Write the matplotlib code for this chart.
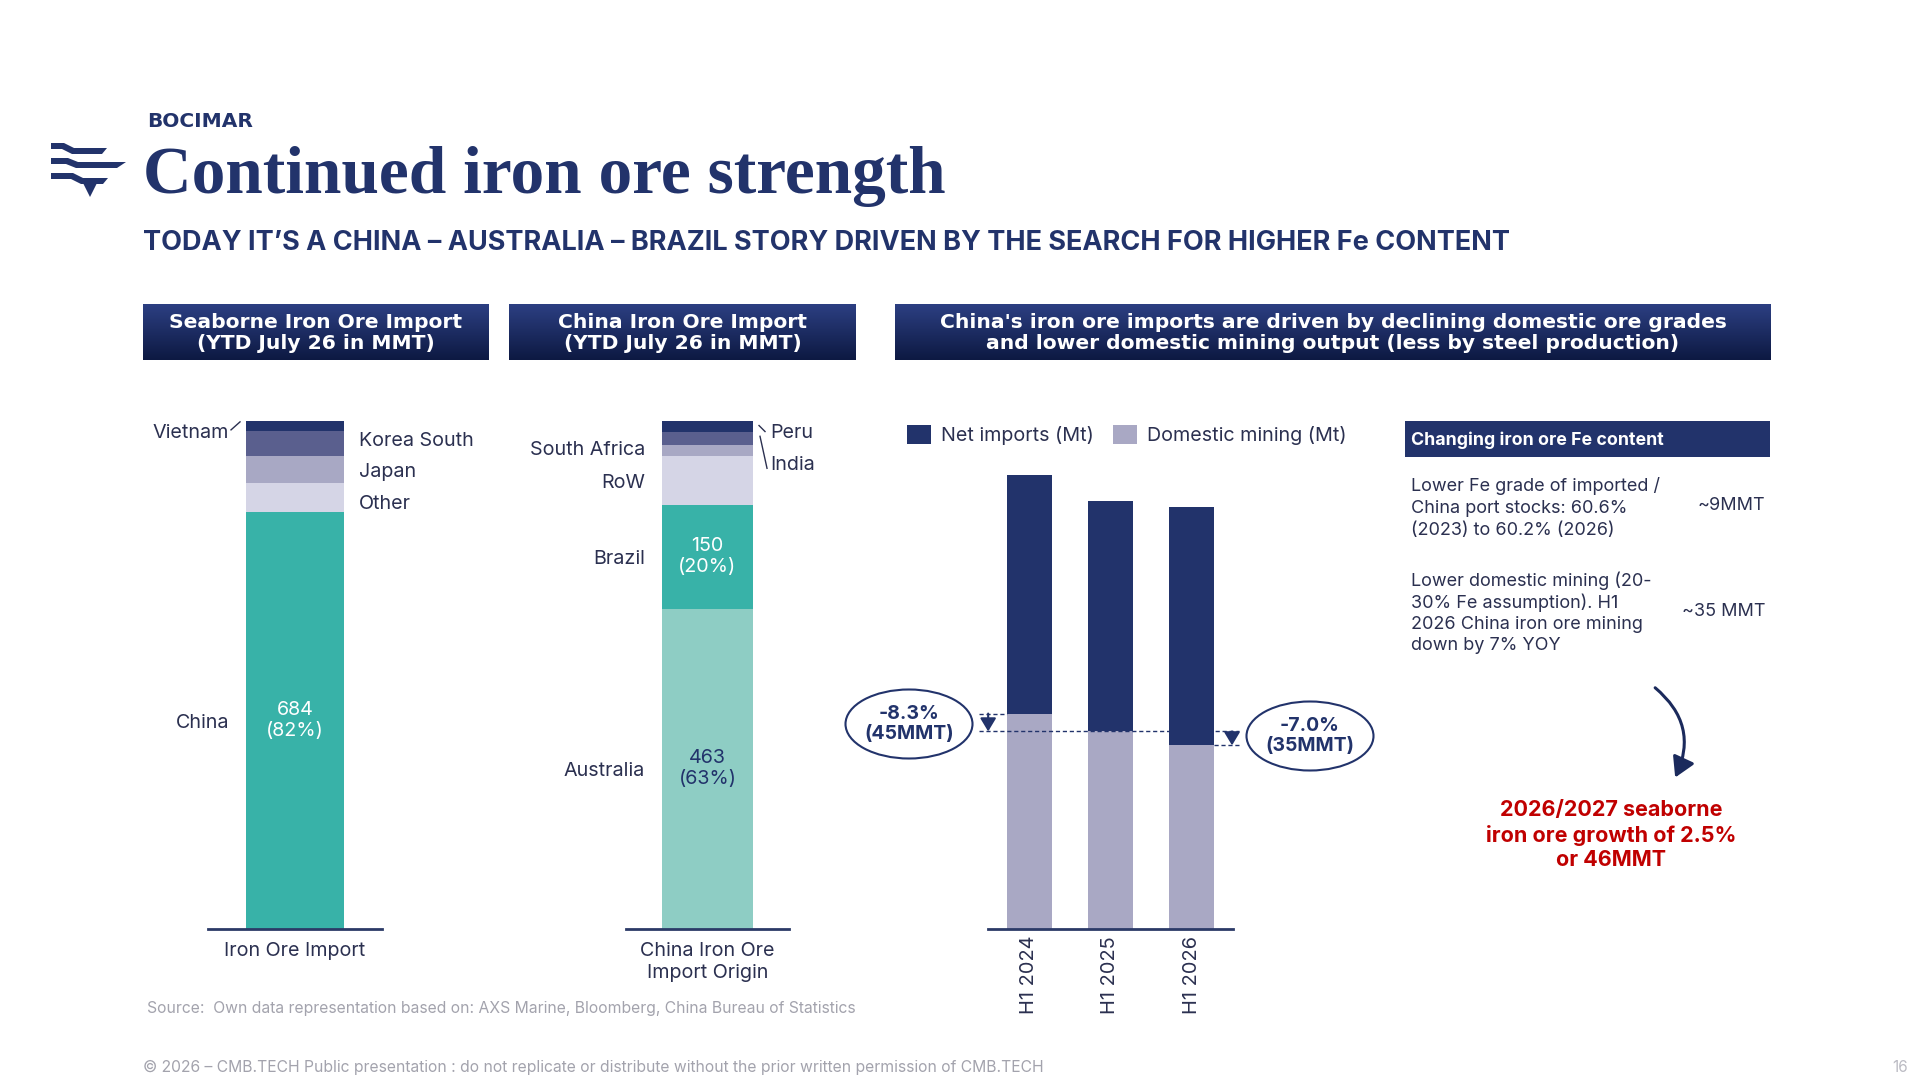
import matplotlib
matplotlib.use('Agg')
import matplotlib.pyplot as plt
import numpy as np
from matplotlib.patches import Ellipse, Polygon, Rectangle, FancyArrowPatch
from matplotlib.colors import LinearSegmentedColormap

# Seaborne iron ore import, YTD July 26 (MMT), bottom to top
seaborne_countries = ['China', 'Other', 'Japan', 'Korea South', 'Vietnam']
seaborne_mmt = [684, 48, 44, 42, 16]

# China iron ore import origin, YTD July 26 (MMT), bottom to top
origin_countries = ['Australia', 'Brazil', 'RoW', 'South Africa', 'India', 'Peru']
origin_mmt = [463, 150, 71, 16, 18, 16]

# China supply, half-year (Mt)
periods = ['H1 2024', 'H1 2025', 'H1 2026']
domestic_mining = [542, 497, 462]
net_imports = [600, 580, 600]

W, H = 1920, 1080
NAVY = '#22336B'
TXT = '#2B3050'
GREY = '#A3A3AD'
LBL = 14.2

plt.rcParams['font.family'] = ['Inter', 'DejaVu Sans']

fig = plt.figure(figsize=(19.2, 10.8), dpi=100)
fig.patch.set_facecolor('white')

# full-page overlay in pixel coordinates (y downwards)
bg = fig.add_axes([0, 0, 1, 1])
bg.axis('off')


def box_axes(left, right, top, bottom):
    a = fig.add_axes([left / W, 1 - bottom / H, (right - left) / W, (bottom - top) / H])
    a.set_facecolor('none')
    for s in ['top', 'right', 'left']:
        a.spines[s].set_visible(False)
    a.spines['bottom'].set_color('#2B3A67')
    a.spines['bottom'].set_linewidth(2)
    a.set_yticks([])
    return a


def to_px(ax, x, y):
    # data point of a chart -> page pixel (y downwards)
    dx, dy = ax.transData.transform((x, y))
    return dx, H - dy


def leader(p0, p1):
    bg.plot([p0[0], p1[0]], [p0[1], p1[1]], color=TXT, lw=1)


# ---- logo ----
def stripe(x0, y0, xj, xend, thick, drop, tip):
    pts = [(x0, y0), (xj, y0), (xj + 10, y0 + drop), (xend, y0 + drop),
           (xend - tip, y0 + drop + thick), (xj + 8, y0 + drop + thick),
           (xj - 2, y0 + thick), (x0, y0 + thick)]
    bg.add_patch(Polygon(pts, closed=True, color=NAVY, lw=0))


stripe(51, 143, 64, 107, 6, 5, 5)
stripe(51, 158, 68, 126, 6, 4, 9)
stripe(51, 173, 73, 108, 6, 5, 5)
bg.add_patch(Polygon([(83, 183), (97, 183), (90, 197)], closed=True, color=NAVY, lw=0))

# ---- titles ----
bg.text(147, 127, 'BOCIMAR', fontsize=14.5, fontweight='bold', family='DejaVu Sans',
        color=NAVY, va='baseline')
title = bg.text(143, 193, 'Continued iron ore strength', fontsize=50, fontweight='bold',
                family='Liberation Serif', color=NAVY, va='baseline')
sub = bg.text(143, 250, 'TODAY IT\u2019S A CHINA \u2013 AUSTRALIA \u2013 BRAZIL STORY DRIVEN BY THE SEARCH FOR HIGHER Fe CONTENT',
              fontsize=16, fontweight='bold', color=NAVY, va='baseline')
bg.set_xlim(0, W)
bg.set_ylim(H, 0)
fig.canvas.draw()
for t, target in [(title, 804), (sub, 1372)]:
    w = t.get_window_extent().width
    t.set_fontsize(t.get_fontsize() * target / w)

# ---- gradient header boxes ----
grad = LinearSegmentedColormap.from_list('hdr', ['#2C3F82', '#0D1942'])
g = np.linspace(0, 1, 64).reshape(-1, 1)
headers = [
    ((143, 489), 'Seaborne Iron Ore Import\n(YTD July 26 in MMT)'),
    ((509, 856), 'China Iron Ore Import\n(YTD July 26 in MMT)'),
    ((895, 1771), "China's iron ore imports are driven by declining domestic ore grades\n"
                  "and lower domestic mining output (less by steel production)"),
]
for (x0, x1), label in headers:
    bg.imshow(g, cmap=grad, extent=(x0, x1, 360, 304), origin='upper', aspect='auto')
    bg.text((x0 + x1) / 2, 333, label, ha='center', va='center', color='white',
            fontsize=14.6, fontweight='bold', family='DejaVu Sans', linespacing=1.15)

bg.set_xlim(0, W)
bg.set_ylim(H, 0)

label_dy = {'Korea South': 2.5, 'Other': -6.5, 'South Africa': 0}

# ---- chart 1: seaborne import ----
seaborne_colors = ['#38B2A8', '#D5D5E6', '#A8A8C4', '#5A5F8E', NAVY]
ax1 = box_axes(208, 382, 421, 929)
bot1 = np.concatenate([[0], np.cumsum(seaborne_mmt)[:-1]])
tot1 = sum(seaborne_mmt)
w1 = 1.126
ax1.bar([0] * len(seaborne_mmt), seaborne_mmt, bottom=bot1, width=w1,
        color=seaborne_colors, lw=0)
ax1.set_xlim(-1, 1)
ax1.set_ylim(0, tot1)
ax1.set_xticks([0])
ax1.set_xticklabels(['Iron Ore Import'], fontsize=LBL, color=TXT)
ax1.tick_params(axis='x', length=0, pad=9)

for name, v, b in zip(seaborne_countries, seaborne_mmt, bot1):
    yc = b + v / 2
    dy = label_dy.get(name, -2.5)
    if name == 'Vietnam':
        bx, by = to_px(ax1, -w1 / 2, yc)
        bg.text(bx - 17, by + 7, name, ha='right', va='center', fontsize=LBL, color=TXT)
        leader((bx - 15, by + 4), (bx - 6, by - 4))
    elif name == 'China':
        ax1.annotate(name, xy=(-w1 / 2, yc), xytext=(-17, dy), textcoords='offset pixels',
                     ha='right', va='center', fontsize=LBL, color=TXT)
        ax1.text(0, yc, f'{v}\n({v / tot1:.0%})', ha='center', va='center',
                 fontsize=LBL, color='white', linespacing=1.2)
    else:
        ax1.annotate(name, xy=(w1 / 2, yc), xytext=(15, dy), textcoords='offset pixels',
                     ha='left', va='center', fontsize=LBL, color=TXT)

# ---- chart 2: China import origin ----
origin_colors = ['#8ECDC4', '#38B2A8', '#D5D5E6', '#A8A8C4', '#5A5F8E', NAVY]
ax2 = box_axes(626, 789, 421, 929)
bot2 = np.concatenate([[0], np.cumsum(origin_mmt)[:-1]])
tot2 = sum(origin_mmt)
w2 = 1.117
ax2.bar([0] * len(origin_mmt), origin_mmt, bottom=bot2, width=w2,
        color=origin_colors, lw=0)
ax2.set_xlim(-1, 1)
ax2.set_ylim(0, tot2)
ax2.set_xticks([0])
ax2.set_xticklabels(['China Iron Ore\nImport Origin'], fontsize=LBL, color=TXT, linespacing=1.3)
ax2.tick_params(axis='x', length=0, pad=9)

for name, v, b in zip(origin_countries, origin_mmt, bot2):
    yc = b + v / 2
    dy = label_dy.get(name, -2.5)
    if name == 'Peru':
        bx, by = to_px(ax2, w2 / 2, yc)
        bg.text(bx + 17, by + 6, name, ha='left', va='center', fontsize=LBL, color=TXT)
        leader((bx + 6, by - 1), (bx + 12, by + 5))
    elif name == 'India':
        bx, by = to_px(ax2, w2 / 2, yc)
        bg.text(bx + 17, by + 27, name, ha='left', va='center', fontsize=LBL, color=TXT)
        leader((bx + 7, by - 2), (bx + 14, by + 30))
    else:
        ax2.annotate(name, xy=(-w2 / 2, yc), xytext=(-17, dy), textcoords='offset pixels',
                     ha='right', va='center', fontsize=LBL, color=TXT)
    if name in ('Australia', 'Brazil'):
        ax2.text(0, yc, f'{v}\n({v / tot2:.0%})', ha='center', va='center', fontsize=LBL,
                 color='white' if name == 'Brazil' else NAVY, linespacing=1.2)

# ---- chart 3: China supply ----
ax3 = box_axes(988, 1233, 421, 929)
x3 = np.arange(len(periods))
b_dom = ax3.bar(x3, domestic_mining, width=0.56, color='#A9A8C4', lw=0, label='Domestic mining (Mt)')
b_net = ax3.bar(x3, net_imports, bottom=domestic_mining, width=0.56, color=NAVY, lw=0,
                label='Net imports (Mt)')
ax3.set_xlim(-0.512, 2.512)
ax3.set_ylim(0, 1278)
ax3.set_xticks(x3)
ax3.set_xticklabels(periods, rotation=90, fontsize=14.4, color=TXT)
ax3.tick_params(axis='x', length=0, pad=5)
ax3.legend(handles=[b_net, b_dom], loc='center left', bbox_to_anchor=(907 / W, 1 - 435 / H),
           bbox_transform=fig.transFigure, ncol=2, frameon=False, fontsize=14.2, labelcolor=TXT,
           handlelength=1.2, handleheight=1.1, handletextpad=0.5, columnspacing=1.0,
           borderaxespad=0, borderpad=0)

dash = dict(color=NAVY, lw=1, ls=(0, (3, 2)), clip_on=False)
ax3.plot([-0.62, 2.59], [domestic_mining[1]] * 2, **dash)
ax3.plot([-0.62, -0.28], [domestic_mining[0]] * 2, **dash)
ax3.plot([2.28, 2.59], [domestic_mining[2]] * 2, **dash)
arr = dict(arrowstyle='-|>,head_length=0.5,head_width=0.3', color=NAVY, lw=1.5,
           mutation_scale=16, shrinkA=0, shrinkB=0)
ax3.annotate('', xy=(-0.51, domestic_mining[1]), xytext=(-0.51, domestic_mining[0]),
             arrowprops=arr, annotation_clip=False)
ax3.annotate('', xy=(2.50, domestic_mining[2]), xytext=(2.50, domestic_mining[1]),
             arrowprops=arr, annotation_clip=False)

# change bubbles
for (cx, cy), i in [((909, 724), 1), ((1310, 736), 2)]:
    d = domestic_mining[i] - domestic_mining[i - 1]
    pct = d / domestic_mining[i - 1]
    bg.add_patch(Ellipse((cx, cy), 127, 69, fill=False, ec=NAVY, lw=1.5))
    bg.text(cx, cy, f'{pct:.1%}\n({abs(d)}MMT)', ha='center', va='center', fontsize=14,
            fontweight='bold', color=NAVY, linespacing=1.2)

# ---- right panel ----
bg.add_patch(Rectangle((1405, 421), 365, 36, color=NAVY, lw=0))
bg.text(1411, 440, 'Changing iron ore Fe content', color='white', fontsize=12.8,
        fontweight='bold', va='center')
bg.text(1411, 477, 'Lower Fe grade of imported /\nChina port stocks: 60.6%\n(2023) to 60.2% (2026)',
        fontsize=13, color=TXT, va='top', linespacing=1.38)
bg.text(1765, 506, '~9MMT', fontsize=13, color=TXT, ha='right', va='center')
bg.text(1411, 571, 'Lower domestic mining (20-\n30% Fe assumption). H1\n2026 China iron ore mining\ndown by 7% YOY',
        fontsize=13, color=TXT, va='top', linespacing=1.3)
bg.text(1765, 612, '~35 MMT', fontsize=13, color=TXT, ha='right', va='center')

bg.add_patch(FancyArrowPatch((1653, 686), (1674, 780), connectionstyle='arc3,rad=-0.4',
                             arrowstyle='-|>,head_length=0.6,head_width=0.35', mutation_scale=20,
                             lw=2.2, color='#1B2A5C'))
bg.text(1611, 835, '2026/2027 seaborne\niron ore growth of 2.5%\nor 46MMT', ha='center', va='center',
        color='#C00000', fontsize=15.5, fontweight='bold', linespacing=1.28)

# ---- footer ----
bg.text(147, 1009, 'Source:  Own data representation based on: AXS Marine, Bloomberg, China Bureau of Statistics',
        fontsize=11.3, color=GREY, va='center')
bg.text(143, 1067, '\u00a9 2026 \u2013 CMB.TECH Public presentation : do not replicate or distribute without the prior written permission of CMB.TECH',
        fontsize=11.3, color=GREY, va='center')
bg.text(1900, 1067, '16', fontsize=11, color='#BBBBC3', ha='center', va='center')

bg.set_xlim(0, W)
bg.set_ylim(H, 0)

fig.savefig('out.png', dpi=100, facecolor='white')
